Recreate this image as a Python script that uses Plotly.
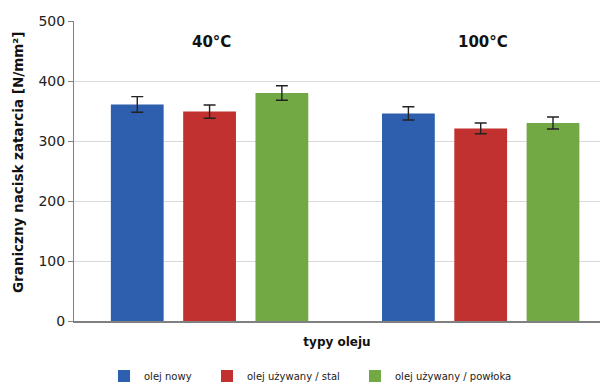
import plotly.graph_objects as go

groups = ["40°C", "100°C"]
series = ["olej nowy", "olej używany / stal", "olej używany / powłoka"]
values = {
    "olej nowy": [361, 346],
    "olej używany / stal": [349, 321],
    "olej używany / powłoka": [380, 330],
}
errors = {
    "olej nowy": [13, 11],
    "olej używany / stal": [11, 9],
    "olej używany / powłoka": [12, 10],
}
colors = ["#2D5FAE", "#C0312F", "#72A944"]
y_ticks = [0, 100, 200, 300, 400, 500]
legend_ids = ["legend", "legend2", "legend3"]
legend_x = [104, 207, 355]  # px from left edge of page

fig = go.Figure()
for name, col, lid in zip(series, colors, legend_ids):
    fig.add_trace(go.Bar(
        x=groups, y=values[name], name=name, legend=lid,
        marker=dict(color=col, line=dict(width=0)),
        error_y=dict(type="data", array=errors[name], color="#222222",
                     thickness=1.4, width=6),
    ))

for g in groups:
    fig.add_annotation(x=g, y=465, text="<b>" + g + "</b>", showarrow=False,
                       xshift=2,
                       font=dict(family="DejaVu Sans", size=15, color="#111111"))

# y-axis title (placed as annotation to match the original's slight upward offset)
fig.add_annotation(xref="paper", yref="paper", x=(18 - 74) / 526, y=(321 - 163) / 300,
                   xanchor="center", yanchor="middle", textangle=-90, showarrow=False,
                   text="<b>Graniczny nacisk zatarcia [N/mm²]</b>",
                   font=dict(family="DejaVu Sans", size=13.5, color="#111111"))

legend_common = dict(orientation="h", xref="container", yref="container",
                     xanchor="left", yanchor="middle", y=(385 - 376) / 385,
                     font=dict(size=10, color="#222222"),
                     bgcolor="rgba(0,0,0,0)")
layout_legends = {}
for lid, lx in zip(legend_ids, legend_x):
    layout_legends[lid] = dict(legend_common, x=lx / 600)

fig.update_layout(
    width=600, height=385,
    margin=dict(l=74, r=0, t=21, b=64, autoexpand=False),
    paper_bgcolor="white", plot_bgcolor="white",
    barmode="group", bargap=0.2, bargroupgap=0.27,
    font=dict(family="DejaVu Sans", color="#222222"),
    showlegend=True,
    xaxis=dict(type="category", range=[-0.5, 1.44], showticklabels=False,
               ticks="", showgrid=False, showline=True, linecolor="#808080",
               linewidth=1.5,
               title=dict(text="<b>typy oleju</b>", font=dict(size=12, color="#111111"),
                          standoff=16)),
    yaxis=dict(range=[0, 500], tickvals=y_ticks, showgrid=True,
               gridcolor="#D9D9D9", gridwidth=1, showline=True,
               linecolor="#808080", linewidth=1, ticks="outside", ticklen=5,
               tickcolor="#808080", tickfont=dict(size=14, color="#222222"),
               zeroline=False),
    **layout_legends,
)

fig.write_html("out.html")
